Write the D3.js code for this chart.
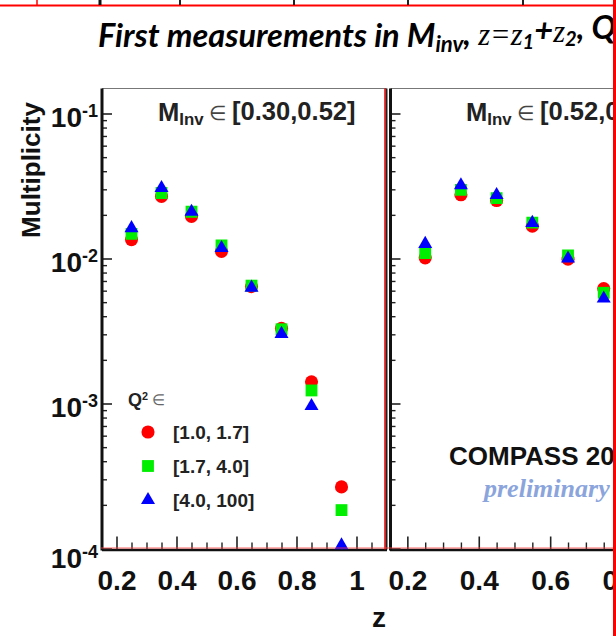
<!DOCTYPE html>
<html><head><meta charset="utf-8">
<script src="https://cdn.jsdelivr.net/npm/d3@7"></script>
<style>
body{margin:0;background:#fff}
svg{display:block}
.ax text{font-family:"Liberation Sans",Arial,sans-serif;font-weight:bold;fill:#111}
</style>
</head><body>
<svg id="c" width="616" height="636"></svg>
<script>
// ---------------- data ----------------
const zBins = [0.25, 0.35, 0.45, 0.55, 0.65, 0.75, 0.85, 0.95];
const q2Labels = ["[1.0, 1.7]", "[1.7, 4.0]", "[4.0, 100]"];
const mInvLabels = ["[0.30,0.52]", "[0.52,0.75]"];

// left panel  M_inv in [0.30,0.52]
const leftQ2a = [0.0135, 0.0268, 0.0195, 0.0112, 0.0064, 0.0033, 0.00141, 0.000266];
const leftQ2b = [0.0148, 0.0283, 0.0210, 0.0123, 0.0065, 0.00325, 0.00123, 0.000184];
const leftQ2c = [0.0162, 0.0306, 0.0210, 0.0118, 0.0063, 0.00302, 0.00096, 0.000105];
// right panel M_inv in [0.52,...] (visible part)
const rightZ = [0.25, 0.35, 0.45, 0.55, 0.65, 0.75];
const rightQ2a = [0.0101, 0.0275, 0.0251, 0.0167, 0.0099, 0.0062];
const rightQ2b = [0.0109, 0.0297, 0.0261, 0.0177, 0.0105, 0.0058];
const rightQ2c = [0.0126, 0.0320, 0.0274, 0.0176, 0.0100, 0.0053];

const xMajorTicks = [0.2, 0.4, 0.6, 0.8, 1.0];
const xTickLabels = ["0.2", "0.4", "0.6", "0.8", "1"];
const xMinorTicks = [0.25, 0.3, 0.35, 0.45, 0.5, 0.55, 0.65, 0.7, 0.75, 0.85, 0.9, 0.95, 1.05];
const yMajorTicks = [1e-1, 1e-2, 1e-3, 1e-4];
const yTickExps = ["-1", "-2", "-3", "-4"];

const seriesColors = ["#ff0000", "#00ee00", "#0000ff"];
const seriesShapes = [d3.symbolCircle, d3.symbolSquare, d3.symbolTriangle];
const seriesSizes = [135, 140, 85];

// ---------------- layout ----------------
const svg = d3.select("#c");
const SANS = '"Liberation Sans", Arial, sans-serif';
const frameTop = 88.5, frameBot = 549.5;
const y = d3.scaleLog().domain([1e-4, 1e-1]).range([548.5, 113.5]);
const xL = d3.scaleLinear().domain([0.15, 1.1]).range([101.5, 386.5]);
const xR = d3.scaleLinear().domain([0.15, 1.1]).range([389.5, 728.7]);

svg.append("rect").attr("width", 616).attr("height", 636).attr("fill", "#fff");

const defs = svg.append("defs");
defs.append("clipPath").attr("id", "clipL").append("rect")
  .attr("x", 102).attr("y", frameTop).attr("width", 284).attr("height", frameBot - frameTop);
defs.append("clipPath").attr("id", "clipR").append("rect")
  .attr("x", 391).attr("y", frameTop).attr("width", 222).attr("height", frameBot - frameTop);

// ---------------- title ----------------
const title = svg.append("text").attr("x", 98).attr("y", 47)
  .style("font-family", "Lato, 'Open Sans', sans-serif").style("font-weight", "bold")
  .style("font-style", "italic").style("font-size", "26px").attr("fill", "#000");
title.append("tspan").text("First measurements in M");
title.append("tspan").text("inv").style("font-size", "0.68em").attr("dy", "0.24em");
title.append("tspan").text(", ").attr("dy", "-0.24em");
const tZ1 = title.append("tspan").text("z=z").style("font-family", "'Liberation Serif', serif")
  .style("font-weight", "normal").style("font-size", "0.94em");
title.append("tspan").text("1").style("font-size", "0.62em").attr("dy", "0.24em");
title.append("tspan").text("+").attr("dy", "-0.24em");
title.append("tspan").text("z").style("font-family", "'Liberation Serif', serif")
  .style("font-weight", "normal").style("font-size", "0.94em");
title.append("tspan").text("2").style("font-size", "0.62em").attr("dy", "0.24em");
title.append("tspan").text(", ").attr("dy", "-0.24em");
const tQ = title.append("tspan").text("Q");
title.append("tspan").text("2").style("font-size", "0.72em").attr("dy", "-0.5em");
{
  const node = title.node();
  const w = node.getSubStringLength(0, 22); // "First measurements in "
  const s = 26 * 309 / w;
  title.style("font-size", s + "px");
  const pz = node.getStartPositionOfChar(28).x;
  tZ1.attr("dx", Math.max(0, 475 - pz));
  const pq = node.getStartPositionOfChar(37).x;
  tQ.attr("dx", Math.max(0, 590 - pq));
}

// ---------------- y label ----------------
svg.append("text").attr("transform", "translate(40,170) rotate(-90)")
  .attr("text-anchor", "middle").style("font-family", SANS).style("font-weight", "bold")
  .style("font-size", "26px").attr("fill", "#111").text("Multiplicity");

// ---------------- panels ----------------
function drawPanel(x, x0, x1, clipId, zs, sets, label, headX, withYLabels, rightEdge) {
  const g = svg.append("g");
  g.append("line").attr("x1", x0).attr("x2", x1).attr("y1", frameTop).attr("y2", frameTop)
    .attr("stroke", "#777").attr("stroke-width", 1.2);
  if (rightEdge) {
    g.append("line").attr("x1", x1).attr("x2", x1).attr("y1", frameTop).attr("y2", frameBot)
      .attr("stroke", "#222").attr("stroke-width", 2);
  }
  const ax = g.append("g").attr("class", "ax").attr("transform", `translate(0,${frameBot})`)
    .call(d3.axisBottom(x).tickValues(xMajorTicks).tickSizeInner(-13).tickSizeOuter(0)
      .tickPadding(21).tickFormat((d, i) => xTickLabels[i]));
  ax.select(".domain").attr("stroke", "#111").attr("stroke-width", 2.6);
  ax.selectAll(".tick line").attr("stroke", "#222").attr("stroke-width", 1.6);
  ax.selectAll(".tick text").style("font-size", "28px").style("font-family", SANS).attr("fill", "#111");
  const axm = g.append("g").attr("transform", `translate(0,${frameBot})`)
    .call(d3.axisBottom(x).tickValues(xMinorTicks).tickSizeInner(-7).tickSizeOuter(0).tickFormat(""));
  axm.select(".domain").remove();
  axm.selectAll(".tick line").attr("stroke", "#222").attr("stroke-width", 1.4);
  const ay = g.append("g").attr("class", "ax").attr("transform", `translate(${x0},0)`)
    .call(d3.axisLeft(y).tickValues(yMajorTicks).tickSizeInner(-10).tickSizeOuter(0).tickFormat(""));
  ay.select(".domain").remove();
  ay.selectAll(".tick line").attr("stroke", "#222").attr("stroke-width", 1.6);
  const minors = y.ticks().filter(v => !yMajorTicks.some(m => Math.abs(m - v) / m < 1e-6));
  const aym = g.append("g").attr("transform", `translate(${x0},0)`)
    .call(d3.axisLeft(y).tickValues(minors).tickSizeInner(-5).tickSizeOuter(0).tickFormat(""));
  aym.select(".domain").remove();
  aym.selectAll(".tick line").attr("stroke", "#222").attr("stroke-width", 1.4);
  g.append("line").attr("x1", x0).attr("x2", x0).attr("y1", frameTop).attr("y2", frameBot + 1)
    .attr("stroke", "#111").attr("stroke-width", 3);
  if (withYLabels) {
    yMajorTicks.forEach((v, i) => {
      const t = g.append("text").attr("x", 98).attr("y", y(v) + (i === 3 ? 19 : 13))
        .attr("text-anchor", "end").style("font-family", SANS).style("font-weight", "bold")
        .style("font-size", "28px").attr("fill", "#111");
      t.append("tspan").text("10");
      t.append("tspan").text(yTickExps[i]).style("font-size", "18px").attr("dy", -10);
    });
  }
  const h = g.append("text").attr("x", headX).attr("y", 121)
    .style("font-family", SANS).style("font-weight", "bold").style("font-size", "21px").attr("fill", "#222");
  h.append("tspan").text("M");
  h.append("tspan").text("Inv").style("font-size", "0.66em").attr("dy", "0.22em");
  h.append("tspan").text(" \u2208 ").attr("dy", "-0.22em").style("font-weight", "normal")
    .style("font-size", "0.8em").attr("fill", "#444");
  h.append("tspan").text(label);
  const pg = g.append("g").attr("clip-path", `url(#${clipId})`);
  sets.forEach((vals, si) => {
    pg.selectAll(null).data(vals.map((v, i) => ({z: zs[i], v}))).join("path")
      .attr("transform", d => `translate(${x(d.z)},${y(d.v)})`)
      .attr("d", d3.symbol().type(seriesShapes[si]).size(seriesSizes[si])())
      .attr("fill", seriesColors[si]);
  });
  return h;
}

const hL = drawPanel(xL, 102, 386.5, "clipL", zBins, [leftQ2a, leftQ2b, leftQ2c], mInvLabels[0], 158, true, true);
const hR = drawPanel(xR, 390.5, 620, "clipR", rightZ, [rightQ2a, rightQ2b, rightQ2c], mInvLabels[1], 466, false, false);
{
  const w = hL.node().getComputedTextLength();
  const s = 21 * 199 / w;
  hL.style("font-size", s + "px");
  hR.style("font-size", s + "px");
}

// ---------------- legend ----------------
const lg = svg.append("g");
const qt = lg.append("text").attr("x", 128).attr("y", 406)
  .style("font-family", SANS).style("font-weight", "bold").style("font-size", "18px").attr("fill", "#222");
qt.append("tspan").text("Q");
qt.append("tspan").text("2").style("font-size", "0.6em").attr("dy", "-0.6em");
qt.append("tspan").text(" \u2208").style("font-weight", "normal").style("font-size", "0.85em")
  .attr("fill", "#666").attr("dy", "0.36em");
const legY = d3.scalePoint().domain(q2Labels).range([432, 500]);
q2Labels.forEach((lab, i) => {
  lg.append("path").attr("transform", `translate(148,${legY(lab)})`)
    .attr("d", d3.symbol().type(seriesShapes[i]).size(seriesSizes[i])()).attr("fill", seriesColors[i]);
  lg.append("text").attr("x", 173).attr("y", legY(lab) + 7)
    .style("font-family", SANS).style("font-weight", "bold").style("font-size", "19px")
    .attr("fill", "#222").text(lab);
});

// ---------------- annotations ----------------
svg.append("text").attr("x", 449).attr("y", 465)
  .style("font-family", SANS).style("font-weight", "bold").style("font-size", "26px")
  .attr("fill", "#111").text("COMPASS 2016");
svg.append("text").attr("x", 484).attr("y", 497)
  .style("font-family", "'Liberation Serif', serif").style("font-weight", "bold").style("font-style", "italic")
  .style("font-size", "26px").attr("fill", "#8ba5dc").text("preliminary");

svg.append("text").attr("x", 379).attr("y", 627).attr("text-anchor", "middle")
  .style("font-family", SANS).style("font-weight", "bold").style("font-size", "28px")
  .attr("fill", "#111").text("z");

// ---------------- slide overlay lines ----------------
svg.append("rect").attr("x", 613).attr("y", 0).attr("width", 3).attr("height", 636).attr("fill", "#fff");
svg.append("line").attr("x1", 0).attr("x2", 616).attr("y1", 5.5).attr("y2", 5.5)
  .attr("stroke", "#ff0000").attr("stroke-width", 2);
const topSegs = [{x: 37, c: "#ff0000", w: 1.5}, {x: 100, c: "#111", w: 3}, {x: 180, c: "#222", w: 2},
  {x: 294, c: "#222", w: 2}, {x: 408, c: "#222", w: 2}, {x: 523, c: "#222", w: 2}];
topSegs.forEach(s => svg.append("line").attr("x1", s.x).attr("x2", s.x).attr("y1", 0).attr("y2", 5)
  .attr("stroke", s.c).attr("stroke-width", s.w));
svg.append("line").attr("x1", 385).attr("x2", 385).attr("y1", frameTop).attr("y2", frameBot)
  .attr("stroke", "#e00000").attr("stroke-width", 1.5);
svg.append("line").attr("x1", 101).attr("x2", 613).attr("y1", 548).attr("y2", 548)
  .attr("stroke", "#ff4040").attr("stroke-width", 1.2).attr("opacity", 0.8);
svg.append("line").attr("x1", 614.5).attr("x2", 614.5).attr("y1", 0).attr("y2", 636)
  .attr("stroke", "#ff0000").attr("stroke-width", 3);
</script>
</body></html>
